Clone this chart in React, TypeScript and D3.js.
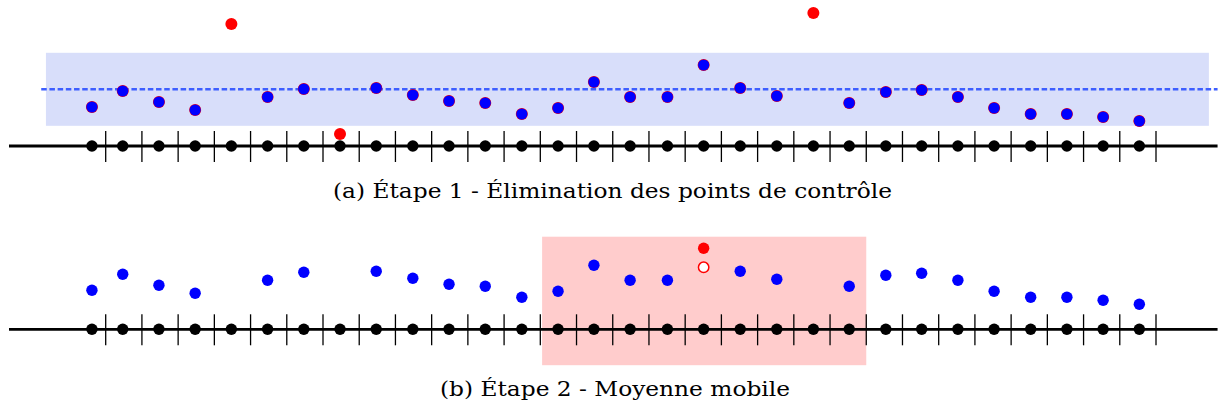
import * as d3 from "d3";

// sample times (axis units, ticks at integers) and measured values
const times = [-0.38, 0.47, 1.47, 2.47, 3.47, 4.47, 5.47, 6.47, 7.47, 8.48, 9.48, 10.48, 11.49, 12.49, 13.48,
  14.48, 15.51, 16.51, 17.52, 18.53, 19.54, 20.53, 21.54, 22.53, 23.53, 24.53, 25.54, 26.54, 27.54, 28.54];
const values = [3.9, 5.5, 4.4, 3.6, 12.2, 4.9, 5.7, 1.2, 5.8, 5.1, 4.5, 4.3, 3.2, 3.8, 6.4,
  4.9, 4.9, 8.1, 5.8, 5.0, 13.3, 4.3, 5.4, 5.6, 4.9, 3.8, 3.2, 3.2, 2.9, 2.5];
const tickTimes = d3.range(0, 30);

// step 1: control band
const meanValue = 5.67;
const bandHalf = 3.65;
const rejected = [4, 7, 20];

// step 2: moving average on one point
const smoothedIndex = 17;
const smoothedValue = 6.2;
const windowStart = 12.05;
const windowEnd = 21.0;

const captionA = "(a) Étape 1 - Élimination des points de contrôle";
const captionB = "(b) Étape 2 - Moyenne mobile";

const W = 1219;
const H = 409;

const x = d3.scaleLinear().domain([0, 29]).range([105.7, 1156]);
const axisFrom = -2.67;
const axisTo = 30.7;

function Axis({ y0 }: { y0: number }) {
  return (
    <g>
      <line x1={x(axisFrom)} x2={x(axisTo)} y1={y0} y2={y0} stroke="#000" strokeWidth={2.8} />
      {tickTimes.map(t => (
        <line key={t} x1={x(t)} x2={x(t)} y1={y0 - 15} y2={y0 + 16} stroke="#000" strokeWidth={1.3} />
      ))}
      {times.map((t, i) => (
        <circle key={i} cx={x(t)} cy={y0} r={5.7} fill="#000" />
      ))}
    </g>
  );
}

export default function App() {
  const yA = d3.scaleLinear().domain([0, 14]).range([146, 6]);
  const yB = d3.scaleLinear().domain([0, 14]).range([329.3, 189.3]);
  const kept = values.map((_, i) => i).filter(i => !rejected.includes(i));
  const inWindowKept = kept.filter(i => i !== smoothedIndex);

  return (
    <svg width={W} height={H} style={{ position: "absolute", left: 0, top: 0, display: "block" }}
      fontFamily="'DejaVu Serif', 'Liberation Serif', serif">
      <rect width={W} height={H} fill="#fff" />

      {/* panel a */}
      <rect x={x(-1.65)} y={yA(meanValue + bandHalf)} width={x(30.46) - x(-1.65)}
        height={yA(meanValue - bandHalf) - yA(meanValue + bandHalf)} fill="#d8defa" />
      <line x1={x(-1.78)} x2={x(axisTo)} y1={yA(meanValue)} y2={yA(meanValue)}
        stroke="#3d5eff" strokeWidth={2.4} strokeDasharray="5.5 2.7" />
      <Axis y0={yA(0)} />
      {values.map((v, i) => (
        <circle key={"r" + i} cx={x(times[i])} cy={yA(v)} r={6} fill="#ff0000" />
      ))}
      {kept.map(i => (
        <circle key={"b" + i} cx={x(times[i])} cy={yA(values[i])} r={5.6} fill="#0000ff" />
      ))}
      <text x={333} y={198} fontSize={21} fill="#000" textLength={559} lengthAdjust="spacingAndGlyphs">{captionA}</text>

      {/* panel b */}
      <rect x={x(windowStart)} y={236.7} width={x(windowEnd) - x(windowStart)} height={128.5} fill="#ffcccc" />
      <Axis y0={yB(0)} />
      {inWindowKept.map(i => (
        <circle key={"b2" + i} cx={x(times[i])} cy={yB(values[i])} r={5.7} fill="#0000ff" />
      ))}
      <circle cx={x(times[smoothedIndex])} cy={yB(values[smoothedIndex])} r={5.7} fill="#ff0000" />
      <circle cx={x(times[smoothedIndex])} cy={yB(smoothedValue)} r={5.2} fill="#fff" stroke="#ff0000" strokeWidth={1.5} />
      <text x={440} y={395.5} fontSize={21} fill="#000" textLength={350} lengthAdjust="spacingAndGlyphs">{captionB}</text>
    </svg>
  );
}
